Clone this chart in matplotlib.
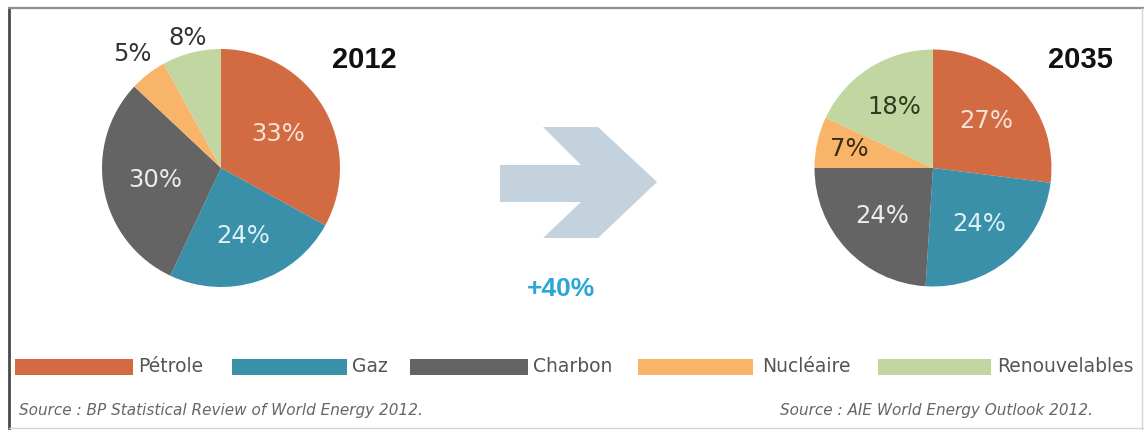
import numpy as np
import matplotlib
matplotlib.use("Agg")
import matplotlib.pyplot as plt
from matplotlib.patches import Polygon, Rectangle

# --- données ---
categories = ["Pétrole", "Gaz", "Charbon", "Nucléaire", "Renouvelables"]
parts_2012 = [33, 24, 30, 5, 8]
parts_2035 = [27, 24, 24, 7, 18]
growth_label = "+40%"
source_2012 = "Source : BP Statistical Review of World Energy 2012."
source_2035 = "Source : AIE World Energy Outlook 2012."

colors = ["#d26a42", "#3a8fa9", "#646464", "#f8b56a", "#c2d6a2"]

W, H = 1144, 430
fig = plt.figure(figsize=(W / 100, H / 100), dpi=100)
ax = fig.add_axes([0, 0, 1, 1])


def Y(y):
    # coordonnées pixel (haut -> bas) vers axes (bas -> haut)
    return H - y


def draw_pie(values, cx, cy, r, dist, txt_colors):
    wedges, _ = ax.pie(values, colors=colors, startangle=90, counterclock=False,
                       center=(cx, Y(cy)), radius=r,
                       wedgeprops=dict(linewidth=0))
    for w, v, d, c in zip(wedges, values, dist, txt_colors):
        a = np.deg2rad((w.theta1 + w.theta2) / 2)
        ax.text(cx + d * r * np.cos(a), Y(cy) + d * r * np.sin(a), f"{v}%",
                ha="center", va="center", fontsize=17.5, color=c)


draw_pie(parts_2012, 221, 168, 119, [0.56, 0.6, 0.56, 1.21, 1.13],
         ["#f7e2d8", "#dcf1f6", "#ececec", "#333333", "#333333"])
draw_pie(parts_2035, 933, 168, 118.5, [0.6, 0.61, 0.59, 0.72, 0.61],
         ["#f7e2d8", "#dcf1f6", "#ececec", "#3b2a14", "#2e3b20"])

ax.text(364, Y(60), "2012", ha="center", va="center", fontsize=21,
        fontweight="bold", family=["Liberation Sans", "DejaVu Sans"], color="#111111")
ax.text(1080, Y(60), "2035", ha="center", va="center", fontsize=21,
        fontweight="bold", family=["Liberation Sans", "DejaVu Sans"], color="#111111")

# flèche
arrow_pts = [(500, 165), (581, 165), (543, 127), (598, 127), (657, 182),
             (598, 238), (543, 238), (581, 202), (500, 202)]
ax.add_patch(Polygon([(x, Y(y)) for x, y in arrow_pts], closed=True,
                     facecolor="#c3d2dc", edgecolor="none"))
ax.text(561, Y(289), growth_label, ha="center", va="center", fontsize=19,
        fontweight="semibold", color="#2aa7d7", family=["Liberation Sans", "DejaVu Sans"])

# légende
patch_x = [(15, 133), (232, 347), (410, 528), (638, 753), (878, 991)]
text_x = [138, 352, 533, 762, 997]
for (x0, x1), tx, lab, col in zip(patch_x, text_x, categories, colors):
    ax.add_patch(Rectangle((x0, Y(375)), x1 - x0, 16, facecolor=col, edgecolor="none"))
    ax.text(tx, Y(367), lab, ha="left", va="center", fontsize=13.5, color="#555555")

ax.text(19, Y(410), source_2012, ha="left", va="center", fontsize=11,
        style="italic", color="#666666")
ax.text(780, Y(410), source_2035, ha="left", va="center", fontsize=11,
        style="italic", color="#666666")

# cadre
ax.plot([9, 9], [Y(8), Y(430)], color="#4a4a4a", lw=2)
ax.plot([9, W], [Y(8), Y(8)], color="#8c9096", lw=1.6)
ax.plot([W - 2, W - 2], [Y(8), Y(430)], color="#cfd4d8", lw=1)
ax.plot([9, W], [Y(428), Y(428)], color="#cfd4d8", lw=1)

ax.set_xlim(0, W)
ax.set_ylim(0, H)
ax.set_aspect("equal")
ax.axis("off")

fig.savefig("out.png", dpi=100, facecolor="white")
